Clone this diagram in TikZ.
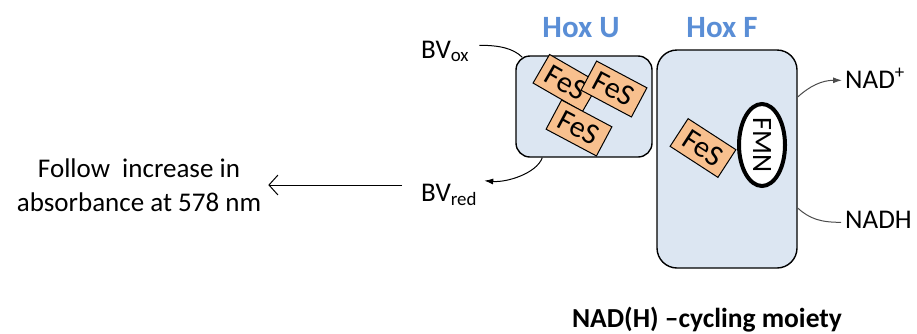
\documentclass[tikz,border=0pt]{standalone}
\usepackage{fontspec}
\setmainfont{Carlito}
\usetikzlibrary{arrows.meta,shapes.geometric,calc}
\definecolor{boxblue}{HTML}{DCE6F2}
\definecolor{fesorange}{HTML}{F8C08E}
\definecolor{hoxblue}{HTML}{5A8ED6}
\begin{document}
\begin{tikzpicture}[x=1pt,y=-1pt,
  hoxbox/.style={draw=black, line width=1.4pt, fill=boxblue, rounded corners=#1, inner sep=0pt},
  fesbox/.style={draw=black, line width=1pt, fill=fesorange, minimum width=57pt,
    minimum height=33pt, inner sep=0pt, font=\fontsize{30}{30}\selectfont},
  txt/.style={inner sep=0pt, font=\fontsize{27}{34}\selectfont},
  hoxlabel/.style={inner sep=0pt, text=hoxblue, font=\fontsize{31}{31}\selectfont\bfseries},
  conn/.style={draw=black, line width=1pt},
  gconn/.style={draw=black!70, line width=1pt}
]
\useasboundingbox (0,0) rectangle (917,333);

% protein subunits
\node[hoxbox=14pt, minimum width=136pt, minimum height=101pt] (hoxu) at (584,106.5) {};
\node[hoxbox=20pt, minimum width=140pt, minimum height=218pt] (hoxf) at (727,159) {};

\node[hoxlabel, anchor=base] (lblu) at (581,37) {Hox U};
\node[hoxlabel, anchor=base] (lblf) at (722,37) {Hox F};

% iron-sulfur clusters
\node[fesbox, rotate=-30] (fes1) at (566,83) {FeS};
\node[fesbox, rotate=-28] (fes2) at (614,89) {FeS};
\node[fesbox, rotate=-28] (fes3) at (579,128) {FeS};
\node[fesbox, rotate=-33] (fes4) at (703,148) {FeS};

% flavin
\node[draw=black, ellipse, line width=4pt, fill=white, minimum width=82pt,
  minimum height=46pt, inner sep=0pt, rotate=-90, font=\fontsize{28}{28}\selectfont]
  (fmn) at (762,145) {FMN};

% labels
\node[txt, anchor=base west] (bvox) at (421,58) {BV\textsubscript{ox}};
\node[txt, anchor=base west] (bvred) at (421,201) {BV\textsubscript{red}};
\node[txt, anchor=base west] (nadp) at (845,88) {NAD\textsuperscript{+}};
\node[txt, anchor=base west] (nadh) at (845,228) {NADH};
\node[txt, align=center] (follow) at (139,185) {Follow\ \ increase in\\absorbance at 578 nm};
\node[inner sep=0pt, font=\fontsize{27.5}{27.5}\selectfont\bfseries, anchor=base] (moiety)
  at (707,327) {NAD(H) –cycling moiety};

% electron acceptor connectors
\draw[conn] ($(bvox.east)+(10,-6)$) .. controls +(20,0) and +(-9,-9) .. ($(hoxu.north west)+(7,2)$);
\draw[conn, -{Latex[length=9pt,width=6pt]}] ($(hoxu.south west)+(27,0)$)
  .. controls +(-6,16) and +(22,2) .. ($(bvred.east)+(7,-14)$);
\draw[conn, -{Straight Barb[length=9pt,width=20pt]}]
  ($(bvred.west |- follow.east)+(-19,0)$) -- ($(follow.east)+(7,0)$);

% NAD(H) connectors
\draw[gconn, -{Latex[length=9pt,width=6pt]}] ($(hoxf.east)+(0,-62)$)
  .. controls +(12,-11) and +(-20,0) .. ($(nadp.west)+(-3,2)$);
\draw[gconn] ($(hoxf.east)+(0,49)$)
  .. controls +(12,11) and +(-20,0) .. ($(nadh.west)+(-4,3)$);
\end{tikzpicture}
\end{document}
